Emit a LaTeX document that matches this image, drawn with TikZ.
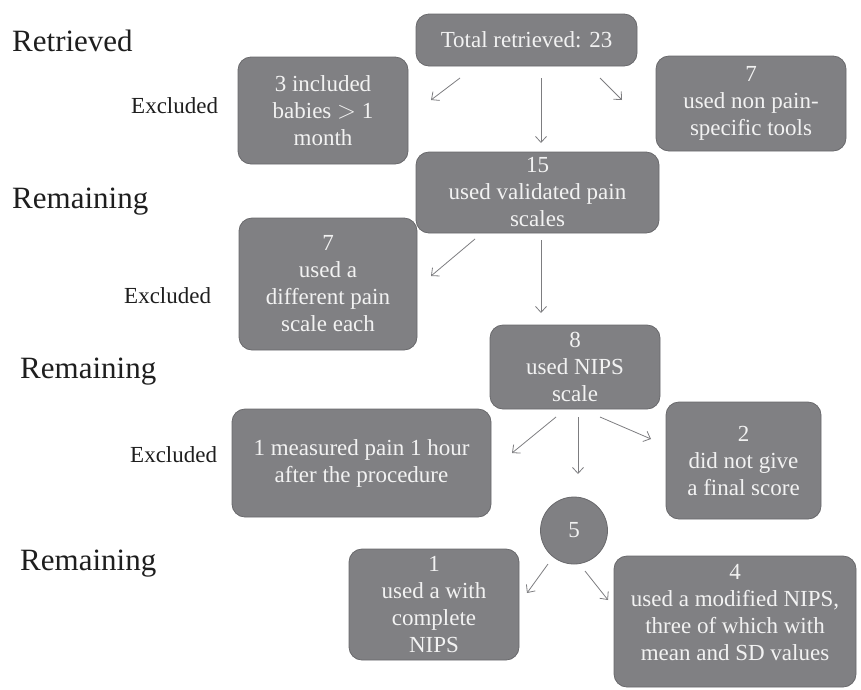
\documentclass[tikz,border=0pt]{standalone}
\usepackage{fontspec}
\setmainfont{Liberation Serif}
\usetikzlibrary{arrows.meta}
\definecolor{boxgray}{RGB}{128,128,131}
\definecolor{boxedge}{RGB}{105,105,108}
\definecolor{arrgray}{RGB}{125,125,128}
\definecolor{txtwhite}{RGB}{242,242,242}
\definecolor{labblack}{RGB}{30,30,30}
\tikzset{
  box/.style={draw=boxedge, line width=0.8pt, fill=boxgray, rounded corners=13pt,
    text=txtwhite, align=center, inner sep=0pt,
    font=\fontsize{23}{27}\selectfont},
  circ/.style={draw=boxedge, line width=0.8pt, fill=boxgray, circle,
    text=txtwhite, minimum size=67pt, inner sep=0pt, font=\fontsize{23}{27}\selectfont},
  arr/.style={draw=arrgray, line width=0.8pt, -{Straight Barb[length=6pt,width=11pt]}},
  biglab/.style={font=\fontsize{31}{36}\selectfont, anchor=base west, inner sep=0pt, text=labblack},
  smalllab/.style={font=\fontsize{23}{26}\selectfont, anchor=base west, inner sep=0pt, text=labblack}
}
\begin{document}
\begin{tikzpicture}[x=1pt,y=-1pt]
\useasboundingbox (0,0) rectangle (861,689);
% side labels
\node[biglab] (l1) at (12,51) {Retrieved};
\node[smalllab] (l2) at (131,113) {Excluded};
\node[biglab] (l3) at (12,208) {Remaining};
\node[smalllab] (l4) at (124,303) {Excluded};
\node[biglab] (l5) at (20,378) {Remaining};
\node[smalllab] (l6) at (130,462) {Excluded};
\node[biglab] (l7) at (20,570) {Remaining};
% boxes
\node[box, minimum width=221pt, minimum height=52pt] (tot) at (526.5,40) {Total retrieved: 23};
\node[box, minimum width=170pt, minimum height=107pt] (inc3) at (323,110.5) {3 included\\babies $>$ 1\\month};
\node[box, minimum width=190pt, minimum height=95pt] (non7) at (751,103.5) {7\\used non pain-\\specific tools};
\node[box, minimum width=243pt, minimum height=81pt] (val15) at (537.5,192.5) {15\\used validated pain\\scales};
\node[box, minimum width=178pt, minimum height=132pt] (diff7) at (328,284) {7\\used a\\different pain\\scale each};
\node[box, minimum width=170pt, minimum height=84pt] (nips8) at (575,367) {8\\used NIPS\\scale};
\node[box, minimum width=259pt, minimum height=108pt] (meas1) at (361.5,463) {1 measured pain 1 hour\\after the procedure};
\node[box, minimum width=155pt, minimum height=117pt] (fin2) at (743.5,460.5) {2\\did not give\\a final score};
\node[circ] (c5) at (574,530.5) {5};
\node[box, minimum width=170pt, minimum height=111pt] (comp1) at (434,604.5) {1\\used a with\\complete\\NIPS};
\node[box, minimum width=242pt, minimum height=131pt, text depth=18pt] (mod4) at (735,621.5) {4\\used a modified NIPS,\\three of which with\\mean and SD values};
% arrow end points
\coordinate (a1s) at (460,78);  \coordinate (a1e) at (431,100);
\coordinate (a2s) at (541,78);  \coordinate (a2e) at (541,143);
\coordinate (a3s) at (600,78);  \coordinate (a3e) at (622,100);
\coordinate (a4s) at (475,239); \coordinate (a4e) at (431,276);
\coordinate (a5s) at (541,240); \coordinate (a5e) at (541,313);
\coordinate (a6s) at (556,417); \coordinate (a6e) at (512,453);
\coordinate (a7s) at (578,417); \coordinate (a7e) at (578,474);
\coordinate (a8s) at (600,417); \coordinate (a8e) at (651,439);
\coordinate (a9s) at (548,564); \coordinate (a9e) at (527,593);
\coordinate (a10s) at (585,571); \coordinate (a10e) at (608,600);
\draw[arr] (a1s) -- (a1e);
\draw[arr] (a2s) -- (a2e);
\draw[arr] (a3s) -- (a3e);
\draw[arr] (a4s) -- (a4e);
\draw[arr] (a5s) -- (a5e);
\draw[arr] (a6s) -- (a6e);
\draw[arr] (a7s) -- (a7e);
\draw[arr] (a8s) -- (a8e);
\draw[arr] (a9s) -- (a9e);
\draw[arr] (a10s) -- (a10e);
\end{tikzpicture}
\end{document}
